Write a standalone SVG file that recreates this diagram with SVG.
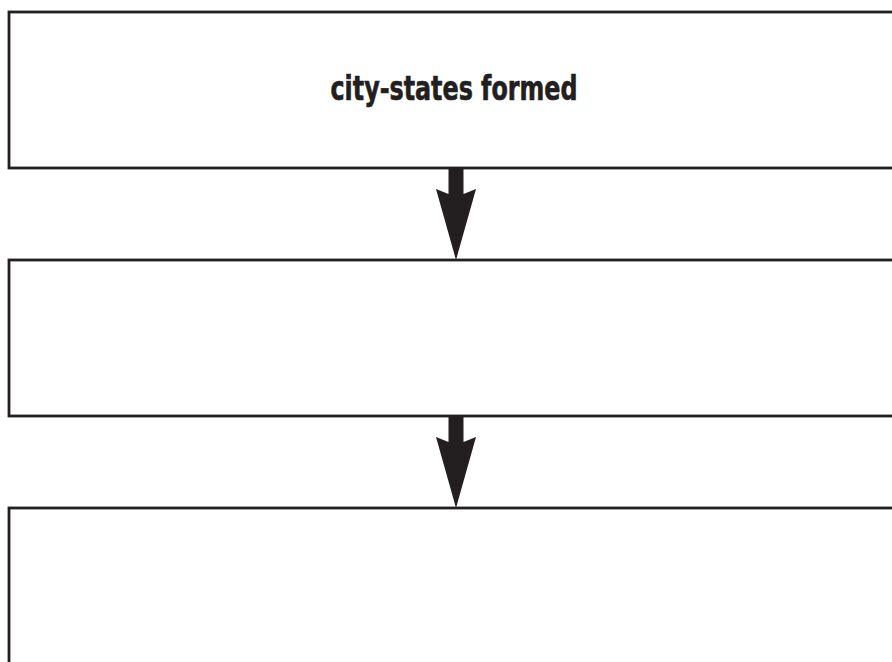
<svg xmlns="http://www.w3.org/2000/svg" width="892" height="662" viewBox="0 0 892 662">
<style>
.box{fill:#fff;stroke:#231f20;stroke-width:2.8}
.arrow{fill:#231f20;stroke:none}
.lbl{font-family:"DejaVu Sans Condensed","DejaVu Sans","Liberation Sans",sans-serif;font-stretch:condensed;font-weight:bold;font-size:33px;fill:#231f20;stroke:#231f20;stroke-width:0.6;text-anchor:middle}
</style>
<rect width="892" height="662" fill="#fff"/>
<g id="node1">
<rect class="box" x="9" y="12" width="900" height="156"/>
<text class="lbl" x="454" y="100" textLength="247" lengthAdjust="spacingAndGlyphs">city-states formed</text>
</g>
<g id="node2">
<rect class="box" x="9" y="260" width="900" height="156"/>
</g>
<g id="node3">
<rect class="box" x="9" y="508" width="900" height="170"/>
</g>
<g id="connectors">
<polygon class="arrow" points="448.5,168 463.5,168 463.5,194 476,189 456,260 436,189 448.5,194"/>
<polygon class="arrow" points="448.5,416 463.5,416 463.5,442 476,437 456,508 436,437 448.5,442"/>
</g>
</svg>
